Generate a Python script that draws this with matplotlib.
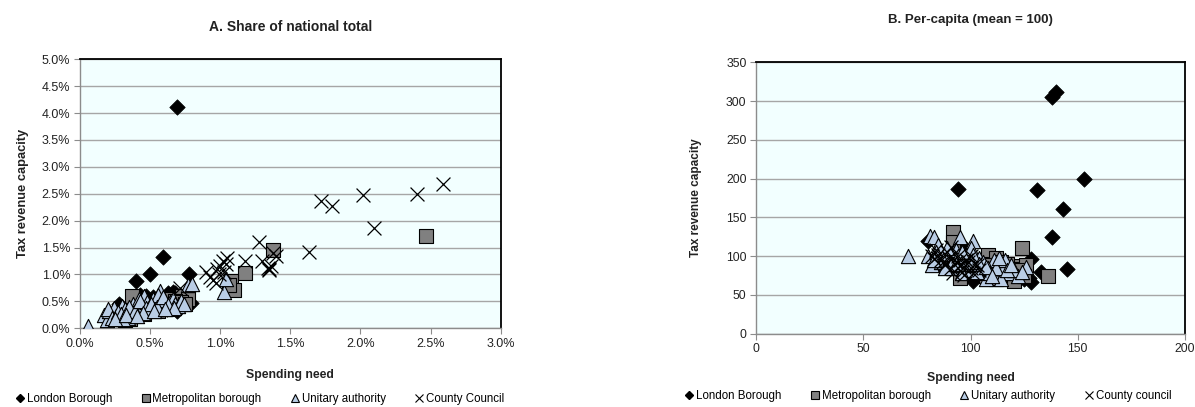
import matplotlib
matplotlib.use("Agg")
import matplotlib.pyplot as plt
from matplotlib import font_manager
from matplotlib.ticker import FuncFormatter
from matplotlib.lines import Line2D

names = {f.name for f in font_manager.fontManager.ttflist}
FONT = ['Liberation Sans Narrow'] if 'Liberation Sans Narrow' in names else ['Liberation Sans']
plt.rcParams['font.family'] = FONT + ['DejaVu Sans']

# ---------------- Data: Panel A (share of national total, %) ----------------
a_london_x = [0.69, 0.59, 0.50, 0.40, 0.78, 0.79, 0.69, 0.43, 0.47, 0.52, 0.55, 0.58, 0.63,
              0.66, 0.68, 0.72, 0.28, 0.35, 0.38, 0.45, 0.50, 0.57, 0.60, 0.61, 0.64, 0.70,
              0.74, 0.33, 0.42, 0.53, 0.48, 0.62, 0.36]
a_london_y = [4.12, 1.33, 1.00, 0.88, 1.01, 0.47, 0.32, 0.62, 0.60, 0.58, 0.55, 0.52, 0.65,
              0.68, 0.65, 0.60, 0.45, 0.40, 0.50, 0.45, 0.42, 0.38, 0.55, 0.48, 0.44, 0.40,
              0.55, 0.35, 0.37, 0.50, 0.30, 0.35, 0.28]

a_metro_x = [2.47, 1.38, 1.18, 1.08, 1.10, 1.06, 0.37, 0.73, 0.77, 0.70, 0.65, 0.60, 0.55,
             0.50, 0.45, 0.42, 0.40, 0.35, 0.32, 0.30, 0.33, 0.38, 0.44, 0.48, 0.52, 0.58,
             0.62, 0.68, 0.72, 0.56, 0.46, 0.41, 0.36, 0.64, 0.75, 0.54]
a_metro_y = [1.72, 1.45, 1.03, 0.88, 0.72, 0.80, 0.60, 0.60, 0.55, 0.45, 0.42, 0.40, 0.38,
             0.35, 0.30, 0.28, 0.25, 0.20, 0.15, 0.18, 0.22, 0.30, 0.35, 0.40, 0.45, 0.50,
             0.55, 0.50, 0.48, 0.33, 0.26, 0.33, 0.17, 0.35, 0.45, 0.43]

a_unitary_x = [0.06, 1.03, 1.04, 0.77, 0.80, 0.57, 0.17, 0.19, 0.21, 0.24, 0.26, 0.28, 0.30,
               0.32, 0.34, 0.36, 0.38, 0.40, 0.42, 0.44, 0.46, 0.48, 0.50, 0.52, 0.54, 0.56,
               0.58, 0.60, 0.62, 0.64, 0.66, 0.68, 0.70, 0.72, 0.74, 0.20, 0.23, 0.27, 0.29,
               0.31, 0.35, 0.39, 0.43, 0.47, 0.51, 0.55, 0.59, 0.63, 0.67, 0.45, 0.53, 0.25,
               0.33, 0.41, 0.61]
a_unitary_y = [0.05, 0.68, 0.92, 0.80, 0.83, 0.70, 0.25, 0.15, 0.32, 0.38, 0.22, 0.28, 0.42,
               0.35, 0.20, 0.30, 0.45, 0.40, 0.55, 0.35, 0.60, 0.48, 0.42, 0.55, 0.36, 0.62,
               0.45, 0.52, 0.40, 0.48, 0.55, 0.46, 0.42, 0.50, 0.45, 0.35, 0.20, 0.30, 0.26,
               0.18, 0.40, 0.32, 0.50, 0.38, 0.45, 0.40, 0.58, 0.44, 0.38, 0.28, 0.33, 0.18,
               0.25, 0.22, 0.35]

a_county_x = [2.59, 2.40, 2.02, 2.10, 1.72, 1.80, 1.63, 1.28, 1.18, 1.30, 1.35, 1.36, 1.34,
              1.40, 1.02, 1.05, 1.00, 0.98, 0.90, 0.93, 0.95, 0.97, 1.03, 0.71, 1.38, 1.35,
              1.04, 0.99]
a_county_y = [2.68, 2.50, 2.47, 1.87, 2.37, 2.28, 1.42, 1.60, 1.25, 1.25, 1.10, 1.15, 1.12,
              1.35, 1.25, 1.30, 1.15, 1.10, 1.05, 0.95, 0.90, 0.85, 1.05, 0.75, 1.40, 1.08,
              1.20, 1.00]

# ---------------- Data: Panel B (per-capita, mean = 100) ----------------
b_london_x = [94, 138, 140, 131, 153, 143, 138, 145, 133, 128, 128, 80, 97, 101, 110, 125,
              120, 105, 95, 115, 122, 100, 108, 92, 112, 118, 103, 98, 127, 90, 113, 106, 99]
b_london_y = [187, 305, 312, 185, 199, 161, 125, 84, 80, 67, 96, 120, 112, 68, 100, 70,
              85, 95, 105, 90, 78, 88, 92, 98, 82, 75, 85, 80, 72, 100, 88, 76, 93]

b_metro_x = [92, 92, 124, 136, 95, 108, 112, 120, 121, 126, 110, 115, 105, 100, 118, 125,
             112, 98, 103, 107, 96, 102, 109, 114, 119, 123, 97, 104, 111, 116, 93, 99, 106,
             113, 117, 122]
b_metro_y = [131, 118, 110, 74, 72, 101, 98, 68, 87, 88, 80, 85, 90, 95, 78, 75, 70, 85,
             80, 75, 90, 82, 88, 92, 84, 80, 100, 78, 72, 86, 95, 88, 83, 77, 90, 82]

b_unitary_x = [71, 81, 83, 85, 95, 101, 100, 93, 80, 82, 90, 105, 110, 113, 115, 118, 122,
               126, 107, 114, 104, 88, 86, 97, 99, 111, 116, 120, 92, 96, 102, 108, 84, 89,
               94, 98, 103, 106, 112, 117, 87, 91, 101, 109, 124, 83, 96, 104, 119, 113, 88,
               100, 107, 93, 110]
b_unitary_y = [100, 126, 125, 115, 125, 120, 110, 108, 100, 88, 95, 85, 80, 93, 88, 78,
               75, 86, 70, 70, 98, 100, 92, 95, 82, 95, 95, 82, 85, 78, 88, 85, 105, 110,
               100, 90, 80, 92, 85, 82, 95, 88, 102, 78, 80, 95, 105, 90, 88, 98, 85,
               92, 86, 90, 75]

b_county_x = [82, 84, 86, 88, 90, 91, 93, 95, 96, 98, 100, 102, 104, 85, 87, 89, 92, 94,
              97, 99, 101, 103, 83, 88, 95, 100, 91, 97]
b_county_y = [100, 108, 95, 90, 98, 85, 92, 88, 80, 95, 85, 90, 82, 102, 93, 105, 78, 100,
              86, 92, 78, 88, 96, 88, 95, 100, 112, 76]

a_xticks = [0.0, 0.5, 1.0, 1.5, 2.0, 2.5, 3.0]
a_yticks = [0.0, 0.5, 1.0, 1.5, 2.0, 2.5, 3.0, 3.5, 4.0, 4.5, 5.0]
b_xticks = [0, 50, 100, 150, 200]
b_yticks = [0, 50, 100, 150, 200, 250, 300, 350]

labels_a = ["London Borough", "Metropolitan borough", "Unitary authority", "County Council"]
labels_b = ["London Borough", "Metropolitan borough", "Unitary authority", "County council"]

FACE = "#F2FFFF"
GRID = "#A6A6A6"
TRI = "#B9CDE5"
SQ = "#808080"
TXT = "#222222"

fig = plt.figure(figsize=(11.95, 4.07), dpi=100)
axA = fig.add_axes([0.0669, 0.1934, 0.3521, 0.6610])
axB = fig.add_axes([0.6329, 0.1802, 0.3587, 0.6667])


def draw(ax, data):
    (lx, ly), (mx, my), (ux, uy), (cx, cy) = data
    ax.scatter(lx, ly, marker='D', s=62, c='black', edgecolors='black', linewidths=0.5, zorder=3)
    ax.scatter(mx, my, marker='s', s=105, c=SQ, edgecolors='black', linewidths=0.8, zorder=3)
    ax.scatter(ux, uy, marker='^', s=105, c=TRI, edgecolors='black', linewidths=0.8, zorder=4)
    ax.scatter(cx, cy, marker='x', s=100, c='black', linewidths=0.9, zorder=5)
    ax.set_facecolor(FACE)
    for s in ['left', 'bottom']:
        ax.spines[s].set_color('#8C8C8C')
        ax.spines[s].set_linewidth(1.0)
    for s in ['top', 'right']:
        ax.spines[s].set_color('black')
        ax.spines[s].set_linewidth(1.3)
    ax.yaxis.grid(True, color=GRID, linewidth=1.0)
    ax.set_axisbelow(True)
    ax.tick_params(axis='both', direction='out', length=4, color='#8C8C8C',
                   labelsize=9, labelcolor=TXT, pad=3)


draw(axA, [(a_london_x, a_london_y), (a_metro_x, a_metro_y),
           (a_unitary_x, a_unitary_y), (a_county_x, a_county_y)])
axA.set_xlim(0, 3.0)
axA.set_ylim(0, 5.0)
axA.set_xticks(a_xticks)
axA.set_yticks(a_yticks)
pct = FuncFormatter(lambda v, p: f"{v:.1f}%")
axA.xaxis.set_major_formatter(pct)
axA.yaxis.set_major_formatter(pct)
axA.set_title("A. Share of national total", fontsize=10, fontweight='bold', pad=20, color=TXT)
axA.set_xlabel("Spending need", fontsize=8.8, fontweight='bold', labelpad=14, color=TXT)
axA.set_ylabel("Tax revenue capacity", fontsize=9.3, fontweight='bold', labelpad=9, color=TXT)

draw(axB, [(b_london_x, b_london_y), (b_metro_x, b_metro_y),
           (b_unitary_x, b_unitary_y), (b_county_x, b_county_y)])
axB.set_xlim(0, 200)
axB.set_ylim(0, 350)
axB.set_xticks(b_xticks)
axB.set_yticks(b_yticks)
axB.set_title("B. Per-capita (mean = 100)", fontsize=9.5, fontweight='bold', pad=28, color=TXT)
axB.set_xlabel("Spending need", fontsize=8.8, fontweight='bold', labelpad=12, color=TXT)
axB.set_ylabel("Tax revenue capacity", fontsize=8.5, fontweight='bold', labelpad=17, color=TXT)
axB.tick_params(labelsize=8.8)


def legend_handles():
    return [
        Line2D([], [], marker='D', linestyle='none', markersize=4, markerfacecolor='black', markeredgecolor='black'),
        Line2D([], [], marker='s', linestyle='none', markersize=6, markerfacecolor=SQ, markeredgecolor='black', markeredgewidth=0.8),
        Line2D([], [], marker='^', linestyle='none', markersize=6, markerfacecolor=TRI, markeredgecolor='black', markeredgewidth=0.8),
        Line2D([], [], marker='x', linestyle='none', markersize=6, color='black', markeredgewidth=0.8),
    ]


fig.legend(legend_handles(), labels_a, loc='center', bbox_to_anchor=(0.217, 0.02), ncol=4,
           frameon=False, fontsize=8.3, handletextpad=0.1, columnspacing=2.4, handlelength=1.0)
fig.legend(legend_handles(), labels_b, loc='center', bbox_to_anchor=(0.776, 0.027), ncol=4,
           frameon=False, fontsize=8.3, handletextpad=0.1, columnspacing=2.4, handlelength=1.0)

fig.savefig("out.png", dpi=100)
